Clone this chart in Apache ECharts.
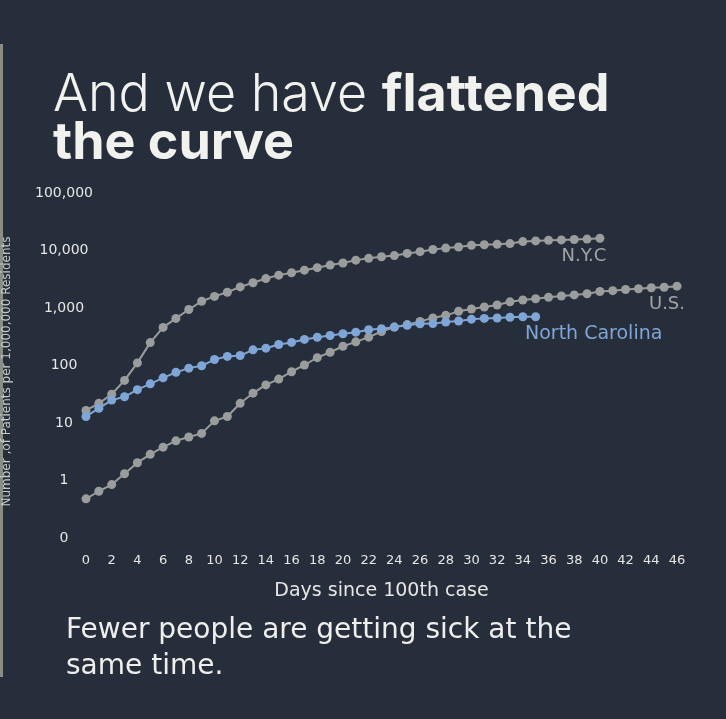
<!DOCTYPE html>
<html>
<head>
<meta charset="utf-8">
<script src="https://cdn.jsdelivr.net/npm/echarts@6/dist/echarts.min.js"></script>
<style>
html,body{margin:0;padding:0;background:#262e3b;}
#chart{width:726px;height:719px;}
</style>
</head>
<body>
<div id="chart"></div>
<script>
const xTicks = [0,2,4,6,8,10,12,14,16,18,20,22,24,26,28,30,32,34,36,38,40,42,44,46];
const yTicks = [0.1,1,10,100,1000,10000,100000];
const nycValues = [16.5,22,31.6,55,111,250,460,660,940,1310,1590,1880,2330,2750,3250,3730,4100,4550,5030,5580,6050,6800,7300,7800,8150,8900,9550,10400,11000,11500,12300,12600,12800,13200,14300,14700,15100,15300,15500,15800,16300];
const usValues = [0.48,0.65,0.85,1.31,2.04,2.85,3.8,4.9,5.7,6.6,10.9,13,22,33,46,58,78,102,137,170,216,258,311,390,465,514,585,670,745,875,960,1040,1130,1280,1380,1450,1540,1620,1690,1770,1940,2000,2100,2160,2250,2300,2400];
const ncValues = [13,18,25,28.6,38,48,61,76,90,99,127,144,149,187,200,232,252,284,310,333,356,380,418,437,465,500,530,535,570,595,640,660,670,690,705,705];
const seriesNames = ['N.Y.C','U.S.','North Carolina'];

function toPairs(vals, labelCfg){
  return vals.map((v,i)=>{
    if(i===vals.length-1) return {value:[i,v], label:labelCfg};
    return [i,v];
  });
}
const FONT = 'Inter';
const SFONT = 'DejaVu Sans';
const gray = '#9b9d9c';
const blue = '#7fa6d6';
const labFont = {show:true, position:'bottom', fontSize:18, fontFamily:SFONT, formatter:p=>p.seriesName};

const chart = echarts.init(document.getElementById('chart'));
chart.setOption({
  backgroundColor:'#262e3b',
  animation:false,
  graphic:[{type:'rect', shape:{x:0,y:44,width:3,height:633}, style:{fill:'#8c8c86'}}],
  title:[
    {text:'{l|And we have }{b|flattened}\n{b|the curve}', left:53, top:71, padding:0,
     textStyle:{rich:{
       l:{fontFamily:FONT, fontWeight:300, fontSize:52, color:'#f1f1ee', lineHeight:48},
       b:{fontFamily:FONT, fontWeight:'bold', fontSize:52, color:'#f1f1ee', lineHeight:48}
     }}},
    {text:'Fewer people are getting sick at the\nsame time.', left:66, top:613, padding:0,
     textStyle:{fontFamily:SFONT, fontWeight:'normal', fontSize:28, color:'#eeeeec', lineHeight:36}}
  ],
  grid:{left:86, right:49, top:193, bottom:181, containLabel:false, outerBoundsMode:'none'},
  xAxis:{type:'value', min:0, max:46, interval:2,
    name:'Days since 100th case', nameLocation:'middle', nameGap:44,
    nameTextStyle:{color:'#e6e6e4', fontSize:19, fontFamily:SFONT},
    axisLine:{show:false}, axisTick:{show:false}, splitLine:{show:false},
    axisLabel:{color:'#e6e6e4', fontSize:13, fontFamily:SFONT, margin:16,
      formatter:v=> xTicks.indexOf(v)>=0 ? String(v) : ''}},
  yAxis:{type:'log', logBase:10, min:0.1, max:100000, splitNumber:6,
    name:'Number ,of Patients per 1,000,000 Residents', nameLocation:'middle', nameGap:73, nameRotate:90,
    nameTextStyle:{color:'#c9cac8', fontSize:12, fontFamily:SFONT, padding:[0,12,0,0]},
    axisLine:{show:false}, axisTick:{show:false}, splitLine:{show:false},
    axisLabel:{color:'#e6e6e4', fontSize:14, fontFamily:SFONT, margin:22, align:'center',
      formatter:v=>{ if(v<0.5) return '0'; return Math.round(v).toLocaleString('en-US'); }}},
  series:[
    {name:seriesNames[0], type:'line', symbol:'circle', symbolSize:9, z:2,
     lineStyle:{color:gray, width:2}, itemStyle:{color:gray},
     data:toPairs(nycValues, Object.assign({}, labFont, {color:'#a3a5a4', offset:[-16,0]}))},
    {name:seriesNames[1], type:'line', symbol:'circle', symbolSize:9, z:2,
     lineStyle:{color:gray, width:2}, itemStyle:{color:gray},
     data:toPairs(usValues, Object.assign({}, labFont, {color:'#a3a5a4', offset:[-10,0]}))},
    {name:seriesNames[2], type:'line', symbol:'circle', symbolSize:9, z:3,
     lineStyle:{color:blue, width:2}, itemStyle:{color:blue},
     data:toPairs(ncValues, Object.assign({}, labFont, {fontSize:19, color:blue, offset:[58,-2]}))}
  ]
});
</script>
</body>
</html>
